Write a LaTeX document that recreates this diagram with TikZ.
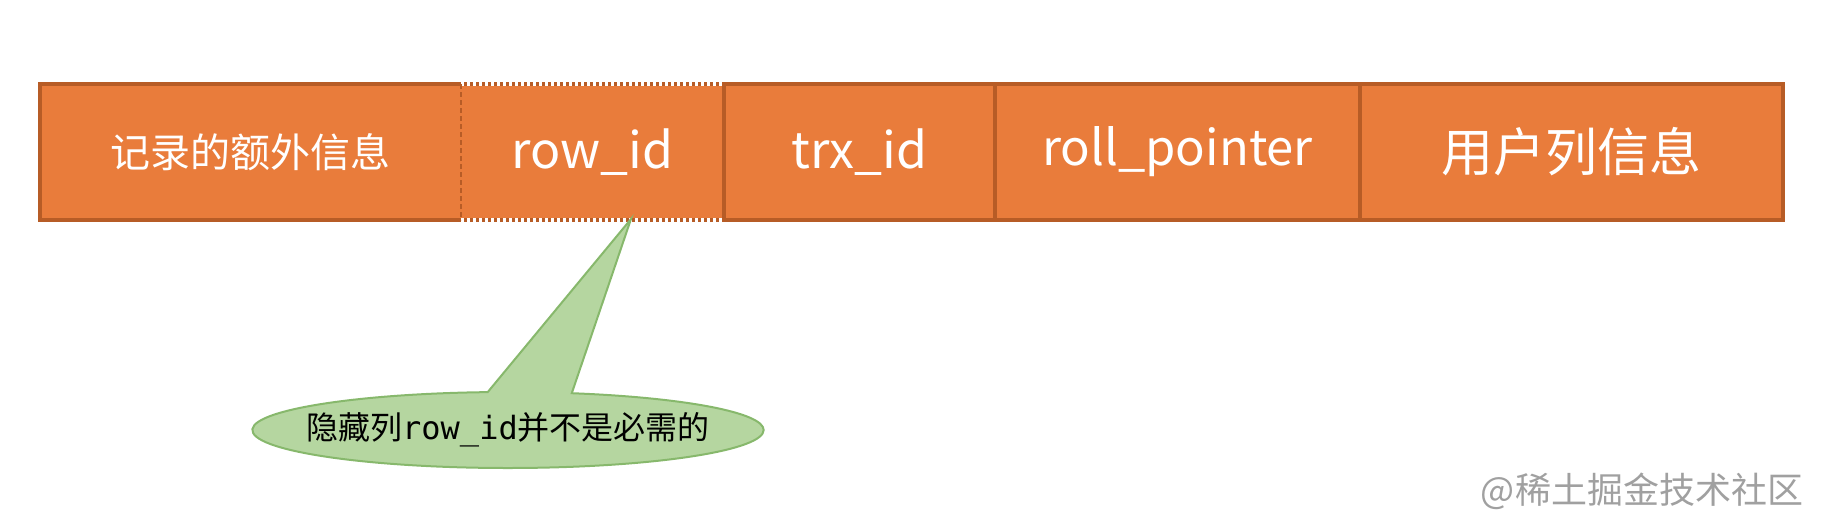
\documentclass[tikz,border=0pt]{standalone}
\usepackage{fontspec}
\setmainfont{Noto Sans CJK SC}
\setmonofont{DejaVu Sans Mono}
\usetikzlibrary{positioning,shapes.callouts}

\definecolor{cellfill}{RGB}{233,124,59}
\definecolor{celledge}{RGB}{183,92,38}
\definecolor{notefill}{RGB}{181,214,160}
\definecolor{noteedge}{RGB}{135,184,108}
\definecolor{markgray}{RGB}{160,160,160}

\tikzset{every picture/.style={line width=0.75pt}}
\tikzset{
  cell/.style={fill=cellfill, text=white, inner sep=0pt, outer sep=0pt, minimum height=136},
  edge/.style={draw=celledge, line width=4pt},
  note/.style={ellipse callout, fill=notefill, draw=noteedge, line width=2pt, minimum height=76, inner xsep=-21pt, inner ysep=0pt, callout pointer arc=19}
}

\begin{document}
\begin{tikzpicture}[x=1pt,y=1pt,yscale=-1,xscale=1]
\useasboundingbox (0,0) rectangle (1824,528);

%Shape: Rectangle cells
\node[cell, minimum width=421] (extra) at (250.5,152) {\fontsize{40}{46}\selectfont 记录的额外信息};
\node[cell, minimum width=263, right=0pt of extra] (rowid) {\fontsize{50}{58}\selectfont row\_id};
\node[cell, minimum width=271, right=0pt of rowid] (trx) {\fontsize{50}{58}\selectfont trx\_id};
\node[cell, minimum width=365, right=0pt of trx] (roll) {\fontsize{49}{58}\selectfont roll\_pointer};
\node[cell, minimum width=423, right=0pt of roll] (user) {\fontsize{52}{60}\selectfont 用户列信息};

%Straight Lines: frame
\draw[edge] (rowid.north west) -- (extra.north west) -- (extra.south west) -- (rowid.south west);
\draw[edge] (rowid.north east) -- (user.north east) -- (user.south east) -- (rowid.south east);
\draw[edge] (rowid.north east) -- (rowid.south east);
\draw[edge] (trx.north east) -- (trx.south east);
\draw[edge] (roll.north east) -- (roll.south east);
%dotted edges of the hidden column
\draw[edge] (rowid.north west) -- (rowid.north east);
\draw[edge] (rowid.south west) -- (rowid.south east);
\draw[white, line width=4pt, dash pattern=on 3pt off 3pt] (rowid.north west) -- (rowid.north east);
\draw[white, line width=4pt, dash pattern=on 3pt off 3pt] (rowid.south west) -- (rowid.south east);
\draw[celledge, line width=1.5pt, dash pattern=on 5pt off 3pt] (rowid.north west) -- (rowid.south west);

%Shape: Callout
\coordinate (tip) at (631,219);
\node[note, callout absolute pointer={(tip)}] (hint) at (508,430) {\fontsize{32}{38}\selectfont 隐藏列\texttt{row\_id}并不是必需的};

% Text Node
\node[text=markgray] (mark) at (1642,491) {\fontsize{36}{42}\selectfont @稀土掘金技术社区};

\end{tikzpicture}
\end{document}
